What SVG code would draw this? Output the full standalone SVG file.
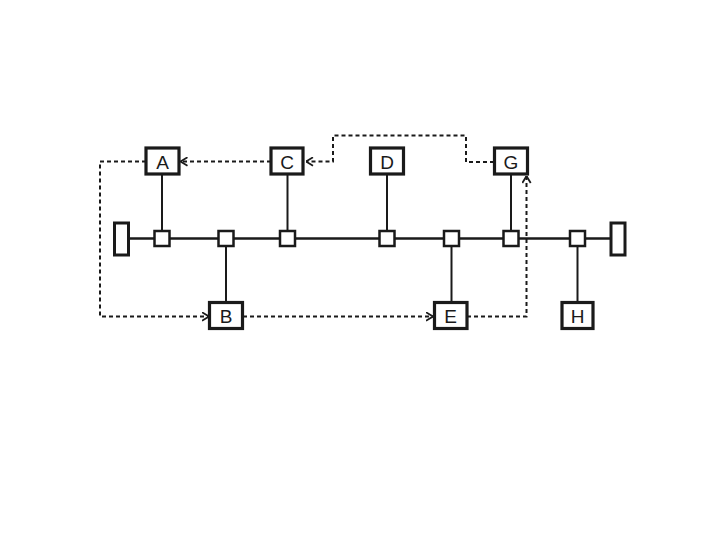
<svg xmlns="http://www.w3.org/2000/svg" width="720" height="540" viewBox="0 0 720 540">
<defs>
<style>
.box{fill:#fff;stroke:#1a1a1a;stroke-width:3.2}
.tap{fill:#fff;stroke:#1a1a1a;stroke-width:2.5}
.term{fill:#fff;stroke:#1a1a1a;stroke-width:3}
.bus{stroke:#1a1a1a;stroke-width:2.5;fill:none}
.drop{stroke:#1a1a1a;stroke-width:2;fill:none}
.flow{stroke:#1a1a1a;stroke-width:2;fill:none;stroke-dasharray:4 3}
.lbl{font-family:"Liberation Sans",Arial,sans-serif;font-size:19px;fill:#1a1a1a;text-anchor:middle}
</style>
<marker id="arr" viewBox="0 0 8 10" refX="7.5" refY="5" markerWidth="8" markerHeight="10" markerUnits="userSpaceOnUse" orient="auto">
<path d="M0.5,0.8 L7.5,5 L0.5,9.2" fill="none" stroke="#1a1a1a" stroke-width="1.8"/>
</marker>
</defs>
<rect width="720" height="540" fill="#fff"/>
<g id="bus">
<line class="bus" x1="129" y1="238.5" x2="610" y2="238.5"/>
<rect id="termL" class="term" x="114.5" y="223" width="14" height="32"/>
<rect id="termR" class="term" x="611" y="223" width="14" height="32"/>
</g>
<g id="connectors">
<line class="drop" x1="162" y1="174" x2="162" y2="231"/>
<line class="drop" x1="226" y1="246" x2="226" y2="302"/>
<line class="drop" x1="287.5" y1="174" x2="287.5" y2="231"/>
<line class="drop" x1="387" y1="174" x2="387" y2="231"/>
<line class="drop" x1="451.5" y1="246" x2="451.5" y2="302"/>
<line class="drop" x1="511" y1="174" x2="511" y2="231"/>
<line class="drop" x1="577.5" y1="246" x2="577.5" y2="302"/>
<path class="flow" d="M146,161.5 H100 V316.5 H209" marker-end="url(#arr)"/>
<path class="flow" d="M243,316.5 H433" marker-end="url(#arr)"/>
<path class="flow" d="M467,316.5 H526.5 V176" marker-end="url(#arr)"/>
<path class="flow" d="M494,162 H466 V135.5 H333 V161.5 H306" marker-end="url(#arr)"/>
<path class="flow" d="M271,161.5 H180.5" marker-end="url(#arr)"/>
</g>
<g id="taps">
<rect class="tap" x="154.5" y="231" width="15" height="15"/>
<rect class="tap" x="218.5" y="231" width="15" height="15"/>
<rect class="tap" x="280" y="231" width="15" height="15"/>
<rect class="tap" x="379.5" y="231" width="15" height="15"/>
<rect class="tap" x="444" y="231" width="15" height="15"/>
<rect class="tap" x="503.5" y="231" width="15" height="15"/>
<rect class="tap" x="570" y="231" width="15" height="15"/>
</g>
<g id="A"><rect class="box" x="146" y="148" width="33" height="26"/><text class="lbl" x="162.5" y="168.5">A</text></g>
<g id="C"><rect class="box" x="271" y="148" width="32" height="26"/><text class="lbl" x="287" y="168.5">C</text></g>
<g id="D"><rect class="box" x="370.5" y="148" width="33" height="26"/><text class="lbl" x="387" y="168.5">D</text></g>
<g id="G"><rect class="box" x="494.5" y="148" width="33" height="26"/><text class="lbl" x="511" y="168.5">G</text></g>
<g id="B"><rect class="box" x="209.5" y="302.5" width="33" height="26"/><text class="lbl" x="226" y="323">B</text></g>
<g id="E"><rect class="box" x="434.5" y="302.5" width="32.5" height="26"/><text class="lbl" x="450.5" y="323">E</text></g>
<g id="H"><rect class="box" x="562" y="302.5" width="31" height="26"/><text class="lbl" x="577.5" y="323">H</text></g>
</svg>
